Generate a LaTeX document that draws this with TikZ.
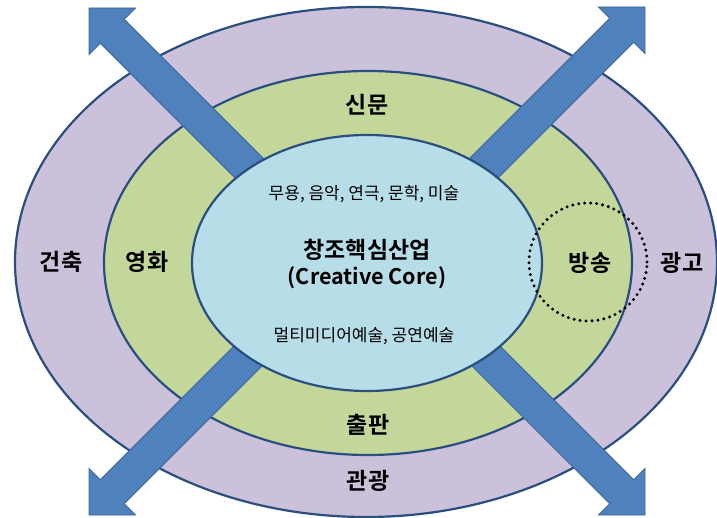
\documentclass[tikz,border=0pt]{standalone}
\usepackage{fontspec}
\setmainfont{Noto Sans CJK KR}[BoldFont={* Bold}]
\definecolor{outerfill}{HTML}{CCC1DA}
\definecolor{midfill}{HTML}{C4D79B}
\definecolor{innerfill}{HTML}{B7DEE8}
\definecolor{ringline}{HTML}{2A4F7F}
\definecolor{arrowfill}{HTML}{4F81BD}
\definecolor{arrowline}{HTML}{3B659A}
\tikzset{
  ring/.style={draw=ringline, line width=2.2pt},
  blockarrow/.style={fill=arrowfill, draw=arrowline, line width=0.8pt, line join=miter},
  biglabel/.style={font=\fontsize{23}{27}\selectfont\bfseries, inner sep=0pt},
  latinlabel/.style={font=\fontsize{21.5}{26}\selectfont\bfseries, inner sep=0pt},
  smalllabel/.style={font=\fontsize{17}{20}\selectfont, inner sep=0pt},
}
\newcommand{\blockarrowat}[2]{%
  \begin{scope}[shift={#1}, rotate=#2]
    \draw[blockarrow] (0,0) -- (-33,33) -- (-33,17) -- (-290,17) -- (-290,-17) -- (-33,-17) -- (-33,-33) -- cycle;
  \end{scope}}
\begin{document}
\begin{tikzpicture}[x=1pt, y=1pt]
\useasboundingbox (0,0) rectangle (717,517);
% outer ring
\fill[outerfill] (366,255) ellipse [x radius=351, y radius=255];
\draw[ring] (366,255) ellipse [x radius=351, y radius=255];
% middle ring
\filldraw[ring, fill=midfill] (368,254) ellipse [x radius=264, y radius=192];
% arrows
\blockarrowat{(89,509)}{135}
\blockarrowat{(645,510)}{45}
\blockarrowat{(89,2)}{225}
\blockarrowat{(645,2)}{-45}
% inner core
\filldraw[ring, fill=innerfill] (367,254) ellipse [x radius=175, y radius=128];
% dotted circle around broadcasting
\draw[black, line width=3.3pt, line cap=round, dash pattern=on 0pt off 6pt] (588,255) circle [radius=59];
% labels
\node[biglabel] (sinmun) at (367,412) {신문};
\node[biglabel] (geonchuk) at (61,255) {건축};
\node[biglabel] (yeonghwa) at (147,255) {영화};
\node[biglabel] (bangsong) at (590,254) {방송};
\node[biglabel] (gwanggo) at (682,254) {광고};
\node[biglabel] (chulpan) at (368,92) {출판};
\node[biglabel] (gwangwang) at (368,36) {관광};
\node[smalllabel] (arts) at (364,323) {무용, 음악, 연극, 문학, 미술};
\node[biglabel] (core) at (367,267) {창조핵심산업};
\node[latinlabel] (coreen) at (367,239) {(Creative Core)};
\node[smalllabel] (multi) at (364,181) {멀티미디어예술, 공연예술};
\end{tikzpicture}
\end{document}
